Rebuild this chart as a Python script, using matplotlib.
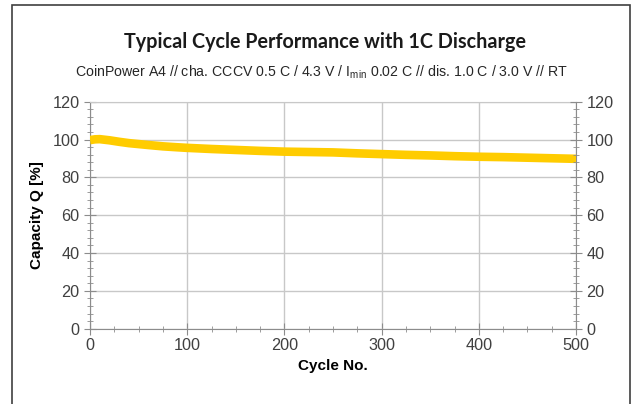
import matplotlib
matplotlib.use("Agg")
import matplotlib.pyplot as plt
from matplotlib.ticker import MultipleLocator
from matplotlib.patches import Rectangle

plt.rcParams['font.family'] = ['Liberation Sans', 'DejaVu Sans']
plt.rcParams['mathtext.fontset'] = 'custom'
plt.rcParams['mathtext.rm'] = 'Liberation Sans'
plt.rcParams['mathtext.default'] = 'regular'

cycles = [0, 5, 10, 20, 30, 40, 50, 60, 75, 90, 100, 125, 150, 175, 200,
          225, 250, 275, 300, 325, 350, 375, 400, 425, 450, 475, 500]
capacity = [99.7, 100.1, 100.2, 99.6, 98.8, 98.1, 97.6, 97.1, 96.4, 95.9, 95.6,
            95.0, 94.5, 94.0, 93.6, 93.4, 93.2, 92.7, 92.3, 91.9, 91.6, 91.2,
            90.9, 90.7, 90.4, 90.1, 89.8]

xticks = [0, 100, 200, 300, 400, 500]
yticks = [0, 20, 40, 60, 80, 100, 120]

title = "Typical Cycle Performance with 1C Discharge"
subtitle = "CoinPower A4 // cha. CCCV 0.5 C / 4.3 V / $I_{min}$ 0.02 C // dis. 1.0 C / 3.0 V // RT"
xlabel = "Cycle No."
ylabel = "Capacity Q [%]"

fig = plt.figure(figsize=(6.33, 4.04), dpi=100)
ax = fig.add_axes([90/633, (404-328.7)/404, 486/633, 227/404])

spine_c = '#8c8c8c'
grid_c = '#c8c8c8'
lab_c = '#404040'

ax.plot(cycles, capacity, color='#FFCC00', lw=6.2, solid_capstyle='butt', zorder=3)
ax.set_xlim(0, 500)
ax.set_ylim(0, 120)
ax.set_xticks(xticks)
ax.set_yticks(yticks)
ax.xaxis.set_minor_locator(MultipleLocator(25))
ax.yaxis.set_minor_locator(MultipleLocator(4))
ax.grid(True, which='major', color=grid_c, lw=1)
ax.set_axisbelow(True)
for s in ['left', 'right', 'bottom']:
    ax.spines[s].set_color(spine_c)
ax.spines['top'].set_color(grid_c)
ax.tick_params(which='both', direction='inout', color=spine_c, labelsize=11.7,
               labelcolor=lab_c)
ax.tick_params(which='major', length=8)
ax.tick_params(which='minor', length=4)
ax.tick_params(axis='y', which='both', right=True)
ax.tick_params(axis='x', pad=3)

ax2 = ax.twinx()
ax2.set_ylim(0, 120)
ax2.set_yticks(yticks)
ax2.yaxis.set_minor_locator(MultipleLocator(4))
for s in ax2.spines.values():
    s.set_visible(False)
ax2.tick_params(which='both', direction='inout', color=spine_c, labelsize=11.7,
                labelcolor=lab_c)
ax2.tick_params(which='major', length=8)
ax2.tick_params(which='minor', length=4)

ax.set_xlabel(xlabel, fontsize=11, fontweight='bold', labelpad=4)
ax.set_ylabel(ylabel, fontsize=11, fontweight='bold', labelpad=6)

fig.text(325/633, 1-42/404, title, ha='center', va='center', fontsize=14.2,
         fontweight='bold', family=['Lato', 'DejaVu Sans'], color='#1a1a1a')
fig.text(322/633, 1-72/404, subtitle, ha='center', va='center', fontsize=10.15,
         color='#262626')

fig.patches.append(Rectangle((12/633, -0.05), (630-12)/633, 1.05 - 5/404,
                             transform=fig.transFigure, fill=False,
                             edgecolor='#404040', lw=1.2))

fig.savefig('out.png', dpi=100, facecolor='white')
